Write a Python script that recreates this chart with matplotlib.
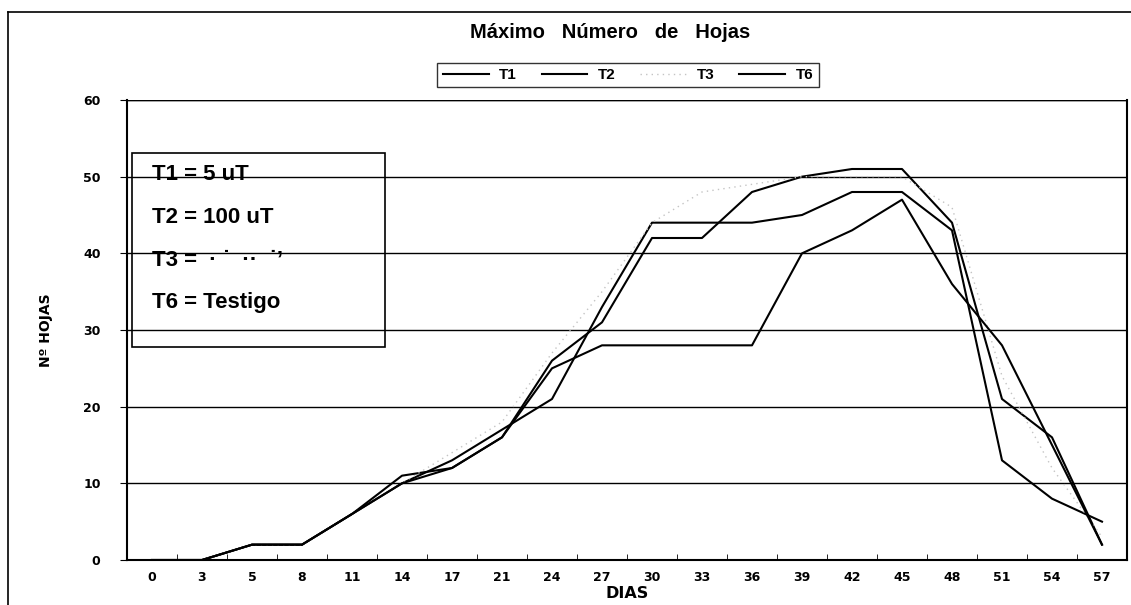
import matplotlib
matplotlib.use("Agg")
import matplotlib.pyplot as plt
from matplotlib.lines import Line2D

# categorias del eje x (dias) y valores
dias = ['0', '3', '5', '8', '11', '14', '17', '21', '24', '27',
        '30', '33', '36', '39', '42', '45', '48', '51', '54', '57']
t1 = [0, 0, 2, 2, 6, 11, 12, 16, 26, 31, 42, 42, 48, 50, 51, 51, 44, 21, 16, 2]
t2 = [0, 0, 2, 2, 6, 10, 13, 17, 21, 33, 44, 44, 44, 45, 48, 48, 43, 13, 8, 5]
t3 = [0, 0, 2, 2, 6, 10, 14, 18, 27, 35, 44, 48, 49, 50, 50, 50, 46, 24, 12, 3]
t6 = [0, 0, 2, 2, 6, 10, 12, 16, 25, 28, 28, 28, 28, 40, 43, 47, 36, 28, 15, 2]
y_ticks = [0, 10, 20, 30, 40, 50, 60]
notas = ['T1 = 5 uT', 'T2 = 100 uT', 'T3 =  \u00b7 \u02d9  \u00b7\u00b7  \u02d9\u2019', 'T6 = Testigo']

W, H = 1131, 605
fig = plt.figure(figsize=(W / 100, H / 100), dpi=100)
ax = fig.add_axes([127 / W, 1 - 560 / H, (1127 - 127) / W, (560 - 100) / H])

x = list(range(len(dias)))
ax.plot(x, t1, color='black', lw=1.5, label='T1')
ax.plot(x, t2, color='black', lw=1.5, label='T2')
ax.plot(x, t3, color='#c4c4c4', lw=1.0, ls=(0, (1, 3)), label='T3')
ax.plot(x, t6, color='black', lw=1.5, label='T6')

ax.set_xlim(-0.5, len(dias) - 0.5)
ax.set_ylim(0, 60)
ax.set_xticks(x)
ax.set_xticklabels(dias)
ax.set_xticks([i - 0.5 for i in range(len(dias) + 1)], minor=True)
ax.set_yticks(y_ticks)
ax.tick_params(axis='x', which='major', length=0, pad=8)
ax.tick_params(axis='x', which='minor', length=4, direction='in')
ax.tick_params(axis='y', length=5, pad=14)
for lab in ax.get_xticklabels() + ax.get_yticklabels():
    lab.set_fontfamily('DejaVu Sans')
    lab.set_fontweight('bold')
    lab.set_fontsize(9)

ax.grid(axis='y', color='black', lw=1.0)
ax.set_axisbelow(True)
ax.spines['top'].set_visible(False)
for s in ['left', 'bottom', 'right']:
    ax.spines[s].set_linewidth(1.5)
ax.axhline(60, color='black', lw=1.0)

ax.set_xlabel('DIAS', fontsize=11.5, fontweight='bold', labelpad=1)
ax.set_ylabel('Nº HOJAS', fontsize=10, fontweight='bold', labelpad=22)

fig.text(610 / W, 1 - 32 / H, 'Máximo   Número   de   Hojas', ha='center', va='center',
         fontsize=14.5, fontweight='bold', family='Liberation Sans')

leg = fig.legend(loc='center', bbox_to_anchor=(628 / W, 1 - 75 / H), ncol=4,
                 frameon=True, fancybox=False, edgecolor='black',
                 handlelength=3.0, columnspacing=1.6, handletextpad=0.7,
                 borderpad=0.35, prop={'weight': 'bold', 'family': 'Liberation Sans', 'size': 11})
leg.get_frame().set_linewidth(1.0)

# recuadro de notas
box = plt.Rectangle((132 / W, 1 - 347 / H), (385 - 132) / W, (347 - 153) / H,
                    transform=fig.transFigure, fill=True, facecolor='none',
                    edgecolor='black', lw=1.2)
fig.patches.append(box)
for i, t in enumerate(notas):
    fig.text(152 / W, 1 - (175 + 42.5 * i) / H, t, ha='left', va='center',
             fontsize=16, fontweight='bold', family='Liberation Sans')

# marco exterior
fig.add_artist(Line2D([8 / W, 1], [1 - 12 / H, 1 - 12 / H], color='black', lw=1.2,
                      transform=fig.transFigure))
fig.add_artist(Line2D([8 / W, 8 / W], [0, 1 - 12 / H], color='black', lw=1.2,
                      transform=fig.transFigure))

fig.savefig('out.png', dpi=100, facecolor='white')
